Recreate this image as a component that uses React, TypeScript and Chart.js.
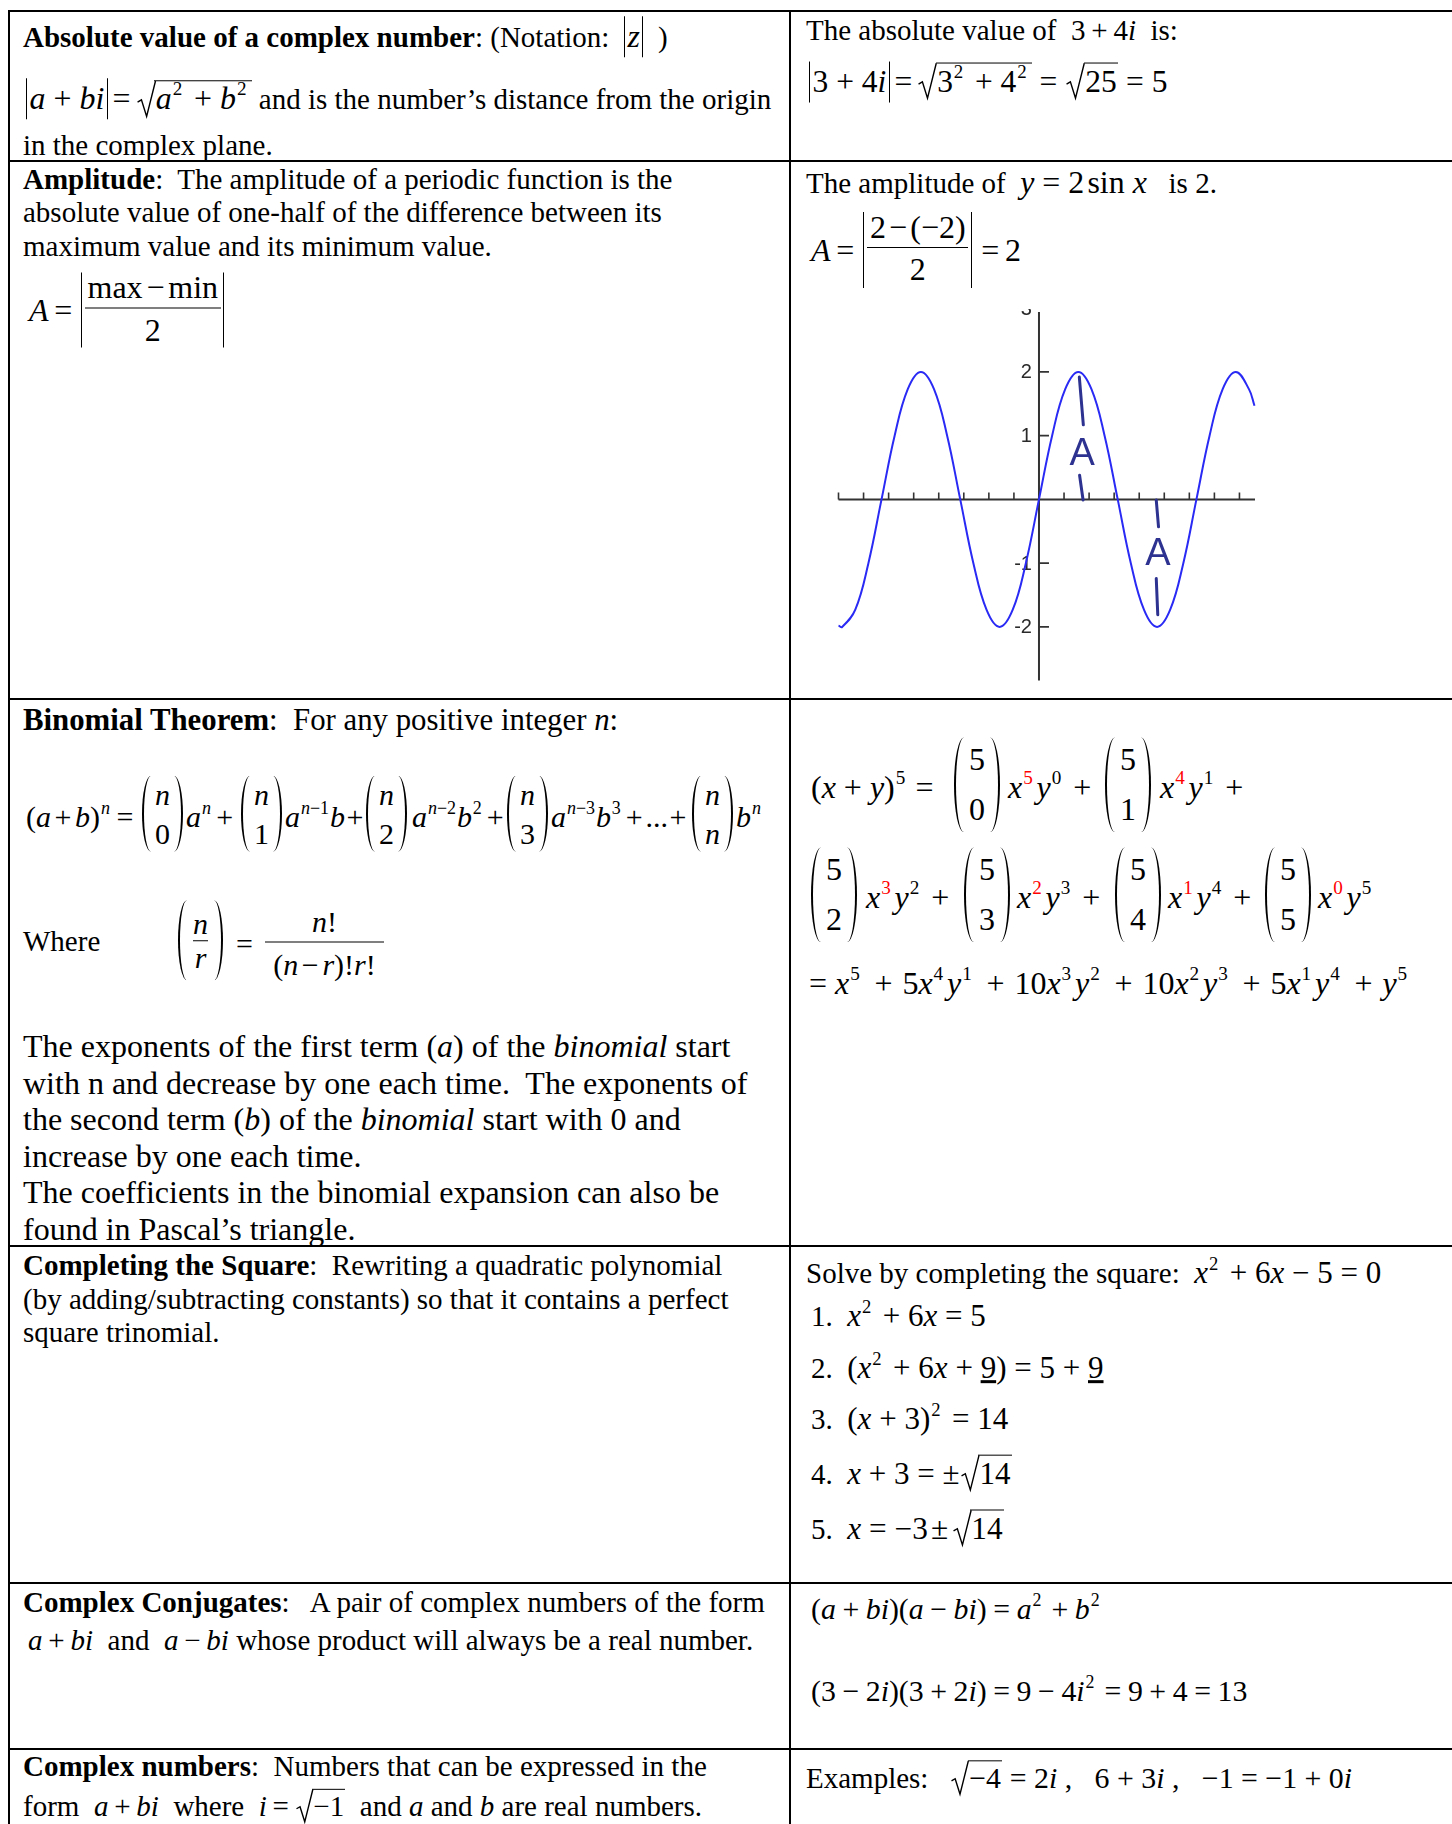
import React, { useEffect, useRef } from 'react';
import { Chart, registerables } from 'chart.js';
Chart.register(...registerables);

const CURVE_X = [-8, -7.854, -7.33, -6.807, -6.283, -5.76, -5.236, -4.712, -4.189, -3.665, -3.142, -2.618, -2.094, -1.571, -1.047, -0.524, 0, 0.524, 1.047, 1.571, 2.094, 2.618, 3.142, 3.665, 4.189, 4.712, 5.236, 5.76, 6.283, 6.807, 7.33, 7.854, 8.378, 8.6];
const CURVE_Y = [-1.98, -2, -1.73, -1, 0, 1, 1.73, 2, 1.73, 1, 0, -1, -1.73, -2, -1.73, -1, 0, 1, 1.73, 2, 1.73, 1, 0, -1, -1.73, -2, -1.73, -1, 0, 1, 1.73, 2, 1.73, 1.47];
const X_RANGE = [-8.1, 8.7];
const Y_RANGE = [-2.88, 2.94];
const X_AXIS_SPAN = [-8, 8.62];
const Y_AXIS_SPAN = [-2.84, 2.94];
const X_TICKS = [-8, -7, -6, -5, -4, -3, -2, -1, 0, 1, 2, 3, 4, 5, 6, 7, 8];
const Y_TICKS = [2, 1, -1, -2];
const Y_LABEL_VALUES = [3, 2, 1, -1, -2];
const Y_LABELS = ['3', '2', '1', '-1', '-2'];
// hand-drawn "A" marks (data coordinates)
const MARK_STROKES = [
  [1.61, 1.92, 1.77, 1.17],
  [1.62, 0.38, 1.76, -0.01],
  [4.68, -0.01, 4.77, -0.43],
  [4.68, -1.24, 4.74, -1.81],
];
const MARK_LABEL_X = [1.72, 4.75];
const MARK_LABEL_Y = [0.75, -0.81];
const MARK_TEXT = ['A', 'A'];

const FONT = '"Liberation Serif", "Times New Roman", serif';

function SineChart() {
  const ref = useRef<HTMLCanvasElement | null>(null);
  useEffect(() => {
    if (!ref.current) return;
    const axesPlugin = {
      id: 'sineAxes',
      beforeDatasetsDraw(chart: any) {
        const { ctx, scales } = chart;
        const x = scales.x, y = scales.y;
        const x0 = x.getPixelForValue(0);
        const y0 = y.getPixelForValue(0);
        ctx.save();
        ctx.strokeStyle = '#333';
        ctx.lineWidth = 2;
        ctx.beginPath();
        ctx.moveTo(x.getPixelForValue(X_AXIS_SPAN[0]), y0);
        ctx.lineTo(x.getPixelForValue(X_AXIS_SPAN[1]), y0);
        ctx.moveTo(x0, y.getPixelForValue(Y_AXIS_SPAN[0]));
        ctx.lineTo(x0, y.getPixelForValue(Y_AXIS_SPAN[1]));
        ctx.stroke();
        ctx.lineWidth = 1.6;
        ctx.beginPath();
        X_TICKS.forEach((v) => {
          const px = x.getPixelForValue(v);
          ctx.moveTo(px, y0);
          ctx.lineTo(px, y0 - 7);
        });
        Y_TICKS.forEach((v) => {
          const py = y.getPixelForValue(v);
          ctx.moveTo(x0, py);
          ctx.lineTo(x0 + 10, py);
        });
        ctx.stroke();
        ctx.fillStyle = '#2a2a2a';
        ctx.font = '20px "Liberation Sans", Arial, sans-serif';
        ctx.textAlign = 'right';
        ctx.textBaseline = 'middle';
        Y_LABEL_VALUES.forEach((v, i) => {
          ctx.fillText(Y_LABELS[i], x0 - 7, y.getPixelForValue(v) + 1);
        });
        ctx.restore();
      },
    };
    const marksPlugin = {
      id: 'amplitudeMarks',
      afterDatasetsDraw(chart: any) {
        const { ctx, scales } = chart;
        const x = scales.x, y = scales.y;
        ctx.save();
        ctx.strokeStyle = '#2d3290';
        ctx.fillStyle = '#2d3290';
        ctx.lineWidth = 3;
        ctx.lineCap = 'round';
        MARK_STROKES.forEach((s) => {
          ctx.beginPath();
          ctx.moveTo(x.getPixelForValue(s[0]), y.getPixelForValue(s[1]));
          ctx.lineTo(x.getPixelForValue(s[2]), y.getPixelForValue(s[3]));
          ctx.stroke();
        });
        const fs = 38;
        ctx.font = `${fs}px "Liberation Sans", Arial, sans-serif`;
        ctx.textAlign = 'center';
        ctx.textBaseline = 'alphabetic';
        MARK_TEXT.forEach((t, i) => {
          ctx.fillText(t, x.getPixelForValue(MARK_LABEL_X[i]), y.getPixelForValue(MARK_LABEL_Y[i]) + fs * 0.358);
        });
        ctx.restore();
      },
    };
    const chart = new Chart(ref.current, {
      type: 'scatter',
      data: {
        datasets: [
          {
            data: CURVE_X.map((xv, i) => ({ x: xv, y: CURVE_Y[i] })),
            showLine: true,
            borderColor: '#2a2af5',
            borderWidth: 2,
            pointRadius: 0,
            tension: 0.4,
            fill: false,
          } as any,
        ],
      },
      options: {
        animation: false,
        responsive: false,
        maintainAspectRatio: false,
        events: [],
        layout: { padding: { top: 3, left: 10, right: 5, bottom: 3 } },
        plugins: { legend: { display: false }, tooltip: { enabled: false } },
        scales: {
          x: { type: 'linear', min: X_RANGE[0], max: X_RANGE[1], display: false },
          y: { type: 'linear', min: Y_RANGE[0], max: Y_RANGE[1], display: false },
        },
      },
      plugins: [axesPlugin, marksPlugin],
    });
    return () => chart.destroy();
  }, []);
  return (
    <div style={{ position: 'absolute', left: 826, top: 309, width: 436, height: 377 }}>
      <canvas ref={ref} width={436} height={377} style={{ width: 436, height: 377, display: 'block' }} />
    </div>
  );
}

// ---- text helpers ----
function P({ x, y, s = 29, children, st }: any) {
  return (
    <div
      style={{
        position: 'absolute',
        left: x,
        top: y,
        transform: 'translateY(-50%)',
        fontSize: s,
        lineHeight: 1.15,
        whiteSpace: 'pre',
        ...st,
      }}
    >
      {children}
    </div>
  );
}
const I = ({ children }: any) => <i>{children}</i>;
const M = ({ children, k = 1.1 }: any) => <span style={{ fontSize: `${k}em` }}>{children}</span>;
const Sp = ({ children, c, mr = 0.2 }: any) => (
  <span style={{ fontSize: '0.6em', position: 'relative', top: '-0.72em', color: c, marginLeft: '0.05em', marginRight: `${mr}em` }}>
    {children}
  </span>
);
const O = ({ children, m = 0.25 }: any) => <span style={{ margin: `0 ${m}em` }}>{children}</span>;
const Abs = ({ children }: any) => (
  <span style={{ display: 'inline-block', borderLeft: '1.5px solid #000', borderRight: '1.5px solid #000', padding: '0 0.08em', lineHeight: 1.3 }}>
    {children}
  </span>
);
const Sqrt = ({ children }: any) => (
  <span style={{ display: 'inline-block', position: 'relative', paddingLeft: '0.55em', marginLeft: '0.04em' }}>
    <svg
      viewBox="0 0 10 20"
      preserveAspectRatio="none"
      style={{ position: 'absolute', left: 0, top: 0, width: '0.58em', height: '100%', overflow: 'visible' }}
    >
      <path d="M0.3 11.6 L2.4 10.4 L5.2 19.2 L10 0.4" fill="none" stroke="#000" strokeWidth={1.4} vectorEffect="non-scaling-stroke" />
    </svg>
    <span style={{ display: 'inline-block', borderTop: '1.5px solid #000', lineHeight: 1.15, padding: '0 0.04em 0 0.05em' }}>{children}</span>
  </span>
);
const AbsFrac = ({ num, den, h, w }: any) => (
  <span
    style={{
      display: 'inline-flex',
      flexDirection: 'column',
      alignItems: 'center',
      justifyContent: 'center',
      borderLeft: '1.5px solid #000',
      borderRight: '1.5px solid #000',
      height: h,
      width: w,
      boxSizing: 'border-box',
      margin: '0 0.1em',
    }}
  >
    <span style={{ borderBottom: '1.5px solid #000', padding: '0 0.08em 0.06em', lineHeight: 1.15 }}>{num}</span>
    <span style={{ lineHeight: 1.35 }}>{den}</span>
  </span>
);
function Paren({ h, w, side }: any) {
  const r = side === 'l' ? `${w}px 0 0 ${w}px / ${h / 2}px 0 0 ${h / 2}px` : `0 ${w}px ${w}px 0 / 0 ${h / 2}px ${h / 2}px 0`;
  return (
    <span
      style={{
        display: 'inline-block',
        width: w,
        height: h,
        boxSizing: 'border-box',
        borderLeft: side === 'l' ? '2px solid #000' : 'none',
        borderRight: side === 'r' ? '2px solid #000' : 'none',
        borderRadius: r,
      }}
    />
  );
}
function Binom({ t, b, h, w = 10, gap, pad = 3, bar = false }: any) {
  return (
    <span style={{ display: 'inline-flex', alignItems: 'center' }}>
      <Paren h={h} w={w} side="l" />
      <span style={{ display: 'inline-flex', flexDirection: 'column', alignItems: 'center', padding: `0 ${pad}px` }}>
        <span style={{ lineHeight: `${gap}px` }}>{t}</span>
        {bar ? <span style={{ alignSelf: 'stretch', borderTop: '1.5px solid #000' }} /> : null}
        <span style={{ lineHeight: `${gap}px` }}>{b}</span>
      </span>
      <Paren h={h} w={w} side="r" />
    </span>
  );
}
const flexRow = { display: 'flex', alignItems: 'center' };
const RED = '#ff0000';

function HLine({ y }: any) {
  return <div style={{ position: 'absolute', left: 8, top: y - 1, width: 1460, height: 2, background: '#000' }} />;
}
function VLine({ x }: any) {
  return <div style={{ position: 'absolute', left: x - 1, top: 10, width: 2, height: 1830, background: '#000' }} />;
}

const B1 = (t: any, b: any) => <Binom t={t} b={b} h={76} w={9} gap={39} pad={4} />;
const B2 = (t: any, b: any) => <Binom t={t} b={b} h={95} w={10} gap={50} pad={5} />;

const LY = 817; // binomial theorem formula centre
const R1 = 787;
const R2 = 897;
const R3 = 983;

export default function App() {
  return (
    <div style={{ position: 'absolute', left: 0, top: 0, width: 1452, height: 1824, overflow: 'hidden', background: '#fff', color: '#000', fontFamily: FONT }}>
      {/* table rules */}
      <VLine x={9} />
      <VLine x={790} />
      <HLine y={11} />
      <HLine y={161} />
      <HLine y={699} />
      <HLine y={1246} />
      <HLine y={1583} />
      <HLine y={1749} />

      {/* Row 1 */}
      <P x={23} y={37}>
        <b>Absolute value of a complex number</b>
        {': (Notation:  '}
        <M>
          <Abs>
            <I>z</I>
          </Abs>
        </M>
        {'  )'}
      </P>
      <P x={26} y={99}>
        <M>
          <Abs>
            <I>a</I>
            <O>+</O>
            <I>bi</I>
          </Abs>
          <O m={0.15}>=</O>
          <Sqrt>
            <I>a</I>
            <Sp>2</Sp>
            <O>+</O>
            <I>b</I>
            <Sp>2</Sp>
          </Sqrt>
        </M>
        {' and is the number’s distance from the origin'}
      </P>
      <P x={23} y={146}>{'in the complex plane.'}</P>

      <P x={806} y={31}>
        {'The absolute value of  3'}
        <O m={0.2}>+</O>
        {'4'}
        <I>i</I>
        {'  is:'}
      </P>
      <P x={809} y={82} s={31.5}>
        <Abs>
          {'3'}
          <O>+</O>
          {'4'}
          <I>i</I>
        </Abs>
        <O m={0.15}>=</O>
        <Sqrt>
          {'3'}
          <Sp>2</Sp>
          <O>+</O>
          {'4'}
          <Sp>2</Sp>
        </Sqrt>
        <O>=</O>
        <Sqrt>{'25'}</Sqrt>
        <O>=</O>
        {'5'}
      </P>

      {/* Row 2 */}
      <P x={23} y={180}>
        <b>Amplitude</b>
        {':  The amplitude of a periodic function is the'}
      </P>
      <P x={23} y={213}>{'absolute value of one-half of the difference between its'}</P>
      <P x={23} y={247}>{'maximum value and its minimum value.'}</P>
      <P x={29} y={310} s={32} st={flexRow}>
        <I>A</I>
        <O m={0.18}>=</O>
        <AbsFrac num={<span>{'max'}<O m={0.12}>−</O>{'min'}</span>} den="2" h={75} w={143} />
      </P>

      <P x={806} y={183}>
        {'The amplitude of  '}
        <M>
          <I>y</I>
          <O>=</O>
          {'2'}
          <span style={{ marginLeft: '0.1em' }}>{'sin '}</span>
          <I>x</I>
        </M>
        {'   is 2.'}
      </P>
      <P x={811} y={250} s={32} st={flexRow}>
        <I>A</I>
        <O m={0.18}>=</O>
        <AbsFrac num={<span>{'2'}<O m={0.1}>−</O>{'(−2)'}</span>} den="2" h={76} w={109} />
        <O m={0.18}>=</O>
        {'2'}
      </P>

      <SineChart />

      {/* Row 3 */}
      <P x={23} y={721} s={30.8}>
        <b>Binomial Theorem</b>
        {':  For any positive integer '}
        <I>n</I>
        {':'}
      </P>
      <P x={26} y={LY} s={30}>
        {'('}
        <I>a</I>
        <O m={0.12}>+</O>
        <I>b</I>
        {')'}
        <Sp>
          <I>n</I>
        </Sp>
        <O m={0.1}>=</O>
      </P>
      <P x={142} y={LY} s={30}>{B1(<I>n</I>, '0')}</P>
      <P x={186} y={LY} s={30}>
        <I>a</I>
        <Sp mr={0.1}>
          <I>n</I>
        </Sp>
        <O m={0.12}>+</O>
      </P>
      <P x={241} y={LY} s={30}>{B1(<I>n</I>, '1')}</P>
      <P x={285} y={LY} s={30}>
        <I>a</I>
        <Sp mr={0.05}>
          <I>n</I>
          {'−1'}
        </Sp>
        <I>b</I>
        <O m={0.05}>+</O>
      </P>
      <P x={366} y={LY} s={30}>{B1(<I>n</I>, '2')}</P>
      <P x={412} y={LY} s={30}>
        <I>a</I>
        <Sp mr={0.05}>
          <I>n</I>
          {'−2'}
        </Sp>
        <I>b</I>
        <Sp mr={0.1}>2</Sp>
        <O m={0.1}>+</O>
      </P>
      <P x={507} y={LY} s={30}>{B1(<I>n</I>, '3')}</P>
      <P x={551} y={LY} s={30}>
        <I>a</I>
        <Sp mr={0.05}>
          <I>n</I>
          {'−3'}
        </Sp>
        <I>b</I>
        <Sp mr={0.1}>3</Sp>
        <O m={0.1}>+</O>
        {'...'}
        <O m={0.05}>+</O>
      </P>
      <P x={692} y={LY} s={30}>{B1(<I>n</I>, <I>n</I>)}</P>
      <P x={736} y={LY} s={30}>
        <I>b</I>
        <Sp>
          <I>n</I>
        </Sp>
      </P>

      <P x={23} y={942}>{'Where'}</P>
      <P x={178} y={944} s={30}>
        <Binom t={<I>n</I>} b={<I>r</I>} h={80} w={9} gap={33} pad={6} bar />
      </P>
      <P x={236} y={944} s={30}>{'='}</P>
      <P x={265} y={944} s={30}>
        <span style={{ display: 'inline-flex', flexDirection: 'column', alignItems: 'center', width: 119 }}>
          <span style={{ lineHeight: '40px', alignSelf: 'stretch', textAlign: 'center', borderBottom: '1.5px solid #000' }}>
            <I>n</I>
            {'!'}
          </span>
          <span style={{ lineHeight: '44px' }}>
            {'('}
            <I>n</I>
            <O m={0.12}>−</O>
            <I>r</I>
            {')!'}
            <I>r</I>
            {'!'}
          </span>
        </span>
      </P>

      <P x={23} y={1046} s={32}>
        {'The exponents of the first term ('}
        <I>a</I>
        {') of the '}
        <I>binomial</I>
        {' start'}
      </P>
      <P x={23} y={1083} s={32}>{'with n and decrease by one each time.  The exponents of'}</P>
      <P x={23} y={1119} s={32}>
        {'the second term ('}
        <I>b</I>
        {') of the '}
        <I>binomial</I>
        {' start with 0 and'}
      </P>
      <P x={23} y={1156} s={32}>{'increase by one each time.'}</P>
      <P x={23} y={1192} s={32}>{'The coefficients in the binomial expansion can also be'}</P>
      <P x={23} y={1229} s={32}>{'found in Pascal’s triangle.'}</P>

      {/* Row 3 right: (x+y)^5 */}
      <P x={811} y={R1} s={32}>
        {'('}
        <I>x</I>
        <O>+</O>
        <I>y</I>
        {')'}
        <Sp>5</Sp>
        <O m={0.2}>=</O>
      </P>
      <P x={954} y={R1} s={32}>{B2('5', '0')}</P>
      <P x={1008} y={R1} s={32}>
        <I>x</I>
        <Sp c={RED}>5</Sp>
        <I>y</I>
        <Sp>0</Sp>
        <O>+</O>
      </P>
      <P x={1105} y={R1} s={32}>{B2('5', '1')}</P>
      <P x={1160} y={R1} s={32}>
        <I>x</I>
        <Sp c={RED}>4</Sp>
        <I>y</I>
        <Sp>1</Sp>
        <O>+</O>
      </P>

      <P x={811} y={R2} s={32}>{B2('5', '2')}</P>
      <P x={866} y={R2} s={32}>
        <I>x</I>
        <Sp c={RED}>3</Sp>
        <I>y</I>
        <Sp>2</Sp>
        <O>+</O>
      </P>
      <P x={964} y={R2} s={32}>{B2('5', '3')}</P>
      <P x={1017} y={R2} s={32}>
        <I>x</I>
        <Sp c={RED}>2</Sp>
        <I>y</I>
        <Sp>3</Sp>
        <O>+</O>
      </P>
      <P x={1115} y={R2} s={32}>{B2('5', '4')}</P>
      <P x={1168} y={R2} s={32}>
        <I>x</I>
        <Sp c={RED}>1</Sp>
        <I>y</I>
        <Sp>4</Sp>
        <O>+</O>
      </P>
      <P x={1265} y={R2} s={32}>{B2('5', '5')}</P>
      <P x={1318} y={R2} s={32}>
        <I>x</I>
        <Sp c={RED}>0</Sp>
        <I>y</I>
        <Sp>5</Sp>
      </P>

      <P x={809} y={R3} s={32}>
        {'='}
        <span style={{ marginRight: '0.25em' }} />
        <I>x</I>
        <Sp mr={0.25}>5</Sp>
        <O m={0.31}>+</O>
        {'5'}
        <I>x</I>
        <Sp>4</Sp>
        <I>y</I>
        <Sp mr={0.25}>1</Sp>
        <O m={0.31}>+</O>
        {'10'}
        <I>x</I>
        <Sp>3</Sp>
        <I>y</I>
        <Sp mr={0.25}>2</Sp>
        <O m={0.31}>+</O>
        {'10'}
        <I>x</I>
        <Sp>2</Sp>
        <I>y</I>
        <Sp mr={0.25}>3</Sp>
        <O m={0.31}>+</O>
        {'5'}
        <I>x</I>
        <Sp>1</Sp>
        <I>y</I>
        <Sp mr={0.25}>4</Sp>
        <O m={0.31}>+</O>
        <I>y</I>
        <Sp>5</Sp>
      </P>

      {/* Row 4 */}
      <P x={23} y={1266}>
        <b>Completing the Square</b>
        {':  Rewriting a quadratic polynomial'}
      </P>
      <P x={23} y={1300}>{'(by adding/subtracting constants) so that it contains a perfect'}</P>
      <P x={23} y={1333}>{'square trinomial.'}</P>

      <P x={806} y={1273}>
        {'Solve by completing the square:  '}
        <M k={1.07}>
          <I>x</I>
          <Sp>2</Sp>
          <O>+</O>
          {'6'}
          <I>x</I>
          <O>−</O>
          {'5'}
          <O>=</O>
          {'0'}
        </M>
      </P>
      <P x={811} y={1316}>
        {'1.  '}
        <M k={1.07}>
          <I>x</I>
          <Sp>2</Sp>
          <O>+</O>
          {'6'}
          <I>x</I>
          <O>=</O>
          {'5'}
        </M>
      </P>
      <P x={811} y={1368}>
        {'2.  '}
        <M k={1.07}>
          {'('}
          <I>x</I>
          <Sp>2</Sp>
          <O>+</O>
          {'6'}
          <I>x</I>
          <O>+</O>
          <u>9</u>
          {')'}
          <O>=</O>
          {'5'}
          <O>+</O>
          <u>9</u>
        </M>
      </P>
      <P x={811} y={1419}>
        {'3.  '}
        <M k={1.07}>
          {'('}
          <I>x</I>
          <O>+</O>
          {'3)'}
          <Sp>2</Sp>
          <O>=</O>
          {'14'}
        </M>
      </P>
      <P x={811} y={1473}>
        {'4.  '}
        <M k={1.07}>
          <I>x</I>
          <O>+</O>
          {'3'}
          <O>=</O>
          {'±'}
          <Sqrt>{'14'}</Sqrt>
        </M>
      </P>
      <P x={811} y={1528}>
        {'5.  '}
        <M k={1.08}>
          <I>x</I>
          <O>=</O>
          {'−3'}
          <O m={0.1}>±</O>
          <Sqrt>{'14'}</Sqrt>
        </M>
      </P>

      {/* Row 5 */}
      <P x={23} y={1603}>
        <b>Complex Conjugates</b>
        {':   A pair of complex numbers of the form'}
      </P>
      <P x={28} y={1641}>
        <I>a</I>
        <O m={0.2}>+</O>
        <I>bi</I>
        {'  and  '}
        <I>a</I>
        <O m={0.2}>−</O>
        <I>bi</I>
        {' whose product will always be a real number.'}
      </P>
      <P x={811} y={1609} s={29.8}>
        {'('}
        <I>a</I>
        <O m={0.22}>+</O>
        <I>bi</I>
        {')('}
        <I>a</I>
        <O m={0.22}>−</O>
        <I>bi</I>
        {')'}
        <O m={0.22}>=</O>
        <I>a</I>
        <Sp>2</Sp>
        <O m={0.22}>+</O>
        <I>b</I>
        <Sp>2</Sp>
      </P>
      <P x={811} y={1691} s={29.8}>
        {'(3'}
        <O m={0.22}>−</O>
        {'2'}
        <I>i</I>
        {')(3'}
        <O m={0.22}>+</O>
        {'2'}
        <I>i</I>
        {')'}
        <O m={0.22}>=</O>
        {'9'}
        <O m={0.22}>−</O>
        {'4'}
        <I>i</I>
        <Sp>2</Sp>
        <O m={0.22}>=</O>
        {'9'}
        <O m={0.22}>+</O>
        {'4'}
        <O m={0.22}>=</O>
        {'13'}
      </P>

      {/* Row 6 */}
      <P x={23} y={1767}>
        <b>Complex numbers</b>
        {':  Numbers that can be expressed in the'}
      </P>
      <P x={23} y={1806}>
        {'form  '}
        <I>a</I>
        <O m={0.2}>+</O>
        <I>bi</I>
        {'  where  '}
        <I>i</I>
        <O m={0.2}>=</O>
        <Sqrt>{'−1'}</Sqrt>
        {'  and '}
        <I>a</I>
        {' and '}
        <I>b</I>
        {' are real numbers.'}
      </P>
      <P x={806} y={1778}>
        {'Examples:   '}
        <M k={1.03}>
          <Sqrt>{'−4'}</Sqrt>
          <O>=</O>
          {'2'}
          <I>i</I>
          {' ,   6'}
          <O>+</O>
          {'3'}
          <I>i</I>
          {' ,   −1'}
          <O>=</O>
          {'−1'}
          <O>+</O>
          {'0'}
          <I>i</I>
        </M>
      </P>
    </div>
  );
}
